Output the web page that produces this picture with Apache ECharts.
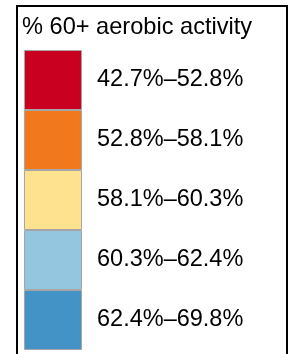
<!DOCTYPE html>
<html>
<head>
<meta charset="utf-8">
<script src="https://cdn.jsdelivr.net/npm/echarts@6/dist/echarts.min.js"></script>
<style>
  html, body { margin: 0; padding: 0; background: #fff; }
  #chart { width: 300px; height: 354px; }
</style>
</head>
<body>
<div id="chart"></div>
<script>
// legend classes, top to bottom
const classes = ['42.7%–52.8%', '52.8%–58.1%', '58.1%–60.3%', '60.3%–62.4%', '62.4%–69.8%']
const swatchColors = ['#ca0020', '#f1781d', '#fee28f', '#94c6e0', '#4393c6']
const swatchValues = [1, 1, 1, 1, 1]
const titleText = '% 60+ aerobic activity'

const chart = echarts.init(document.getElementById('chart'), null, { renderer: 'canvas' })

chart.setOption({
  animation: false,
  title: {
    text: titleText, left: 17, top: 10,
    textStyle: { fontFamily: 'Liberation Sans', fontSize: 23.6, fontWeight: 'normal', color: '#000' }
  },
  grid: { left: 24, top: 50, width: 58, height: 300 },
  xAxis: { type: 'value', min: 0, max: 1, show: false },
  yAxis: {
    type: 'category', data: classes, inverse: true, show: false
  },
  series: [{
    type: 'bar',
    barWidth: '100%',
    barCategoryGap: 0,
    data: swatchValues.map((v, i) => ({
      value: v,
      itemStyle: { color: swatchColors[i], borderColor: '#a6a6a6', borderWidth: 1 }
    })),
    label: {
      show: true, position: 'right', distance: 15,
      formatter: (p) => p.name,
      fontFamily: 'Liberation Sans', fontSize: 23.5, color: '#000'
    },
    silent: true
  }],
  graphic: [{
    type: 'rect',
    shape: { x: 17, y: 6, width: 270, height: 360 },
    style: { fill: 'none', stroke: '#000', lineWidth: 2 }
  }]
})
</script>
</body>
</html>
